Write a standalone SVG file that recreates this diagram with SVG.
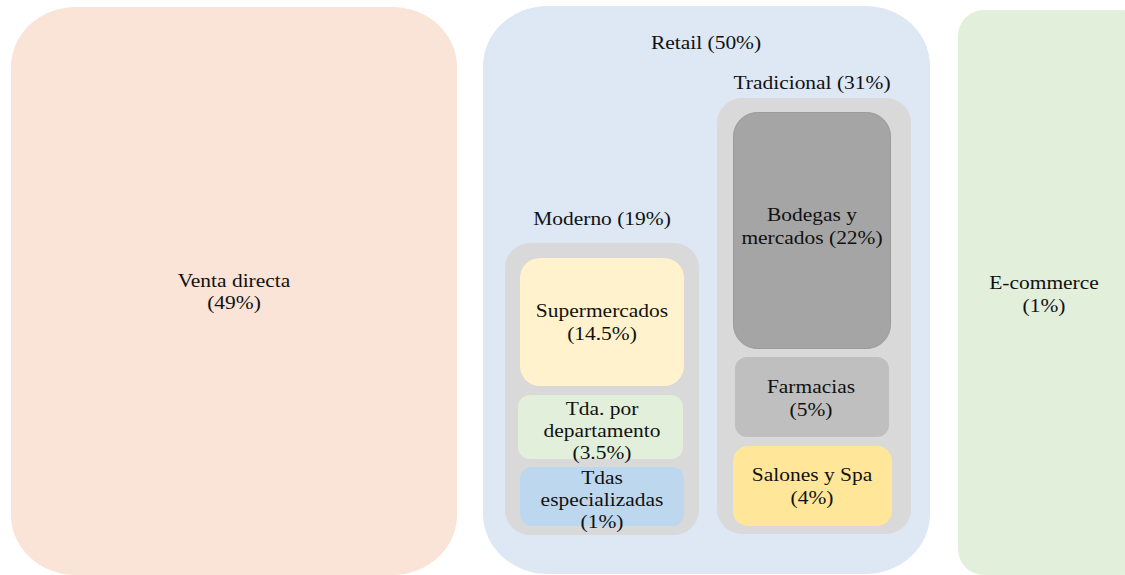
<svg xmlns="http://www.w3.org/2000/svg" width="1125" height="575" viewBox="0 0 1125 575">
<style>
  .t { font-family: 'Liberation Serif', 'DejaVu Serif', serif; font-size: 19px; fill: #111; text-anchor: middle; }
  .gray { fill: #d9d9d9; }
</style>
<rect width="1125" height="575" fill="#ffffff"/>
<g id="venta-directa">
  <rect x="11" y="7" width="446" height="568" rx="65" ry="60" fill="#f9e4d7"/>
  <text class="t" transform="translate(234,287) scale(1.13,1)">Venta directa</text>
  <text class="t" transform="translate(234,309) scale(1.13,1)">(49%)</text>
</g>
<g id="retail">
  <rect x="483" y="6" width="447" height="568" rx="65" ry="60" fill="#dde8f4"/>
  <text class="t" transform="translate(706,49) scale(1.13,1)">Retail (50%)</text>
</g>
<g id="e-commerce">
  <rect x="958" y="10" width="190" height="565" rx="26" ry="26" fill="#e2efda"/>
  <text class="t" transform="translate(1044,289) scale(1.13,1)">E-commerce</text>
  <text class="t" transform="translate(1044,312) scale(1.13,1)">(1%)</text>
</g>
<g id="tradicional">
  <rect class="gray" x="717" y="98" width="194" height="436" rx="25" ry="25"/>
  <text class="t" transform="translate(812,89) scale(1.13,1)">Tradicional (31%)</text>
</g>
<g id="bodegas">
  <rect x="733.5" y="112.5" width="157" height="236" rx="24" ry="24" fill="#a5a5a5" stroke="#9a9a9a" stroke-width="1"/>
  <text class="t" transform="translate(812,221) scale(1.13,1)">Bodegas y</text>
  <text class="t" transform="translate(812,244) scale(1.13,1)">mercados (22%)</text>
</g>
<g id="farmacias">
  <rect x="735" y="357" width="154" height="80" rx="12" ry="12" fill="#bfbfbf"/>
  <text class="t" transform="translate(811,393) scale(1.13,1)">Farmacias</text>
  <text class="t" transform="translate(811,416) scale(1.13,1)">(5%)</text>
</g>
<g id="salones">
  <rect x="733" y="446" width="159" height="80" rx="15" ry="15" fill="#ffe699"/>
  <text class="t" transform="translate(812,481) scale(1.13,1)">Salones y Spa</text>
  <text class="t" transform="translate(812,504) scale(1.13,1)">(4%)</text>
</g>
<g id="moderno">
  <rect class="gray" x="505" y="243" width="194" height="292" rx="25" ry="25"/>
  <text class="t" transform="translate(602,225) scale(1.13,1)">Moderno (19%)</text>
</g>
<g id="supermercados">
  <rect x="520" y="258" width="164" height="128" rx="20" ry="20" fill="#fff2cc"/>
  <text class="t" transform="translate(602,317) scale(1.13,1)">Supermercados</text>
  <text class="t" transform="translate(602,340) scale(1.13,1)">(14.5%)</text>
</g>
<g id="tda-departamento">
  <rect x="518" y="395" width="165" height="64" rx="12" ry="12" fill="#e2efda"/>
  <text class="t" transform="translate(602,415) scale(1.13,1)">Tda. por</text>
  <text class="t" transform="translate(602,437) scale(1.13,1)">departamento</text>
  <text class="t" transform="translate(602,459) scale(1.13,1)">(3.5%)</text>
</g>
<g id="tdas-especializadas">
  <rect x="520" y="467" width="164" height="59" rx="12" ry="12" fill="#bdd7ee"/>
  <text class="t" transform="translate(602,484) scale(1.13,1)">Tdas</text>
  <text class="t" transform="translate(602,506) scale(1.13,1)">especializadas</text>
  <text class="t" transform="translate(602,528) scale(1.13,1)">(1%)</text>
</g>
<g id="connectors"></g>
</svg>
